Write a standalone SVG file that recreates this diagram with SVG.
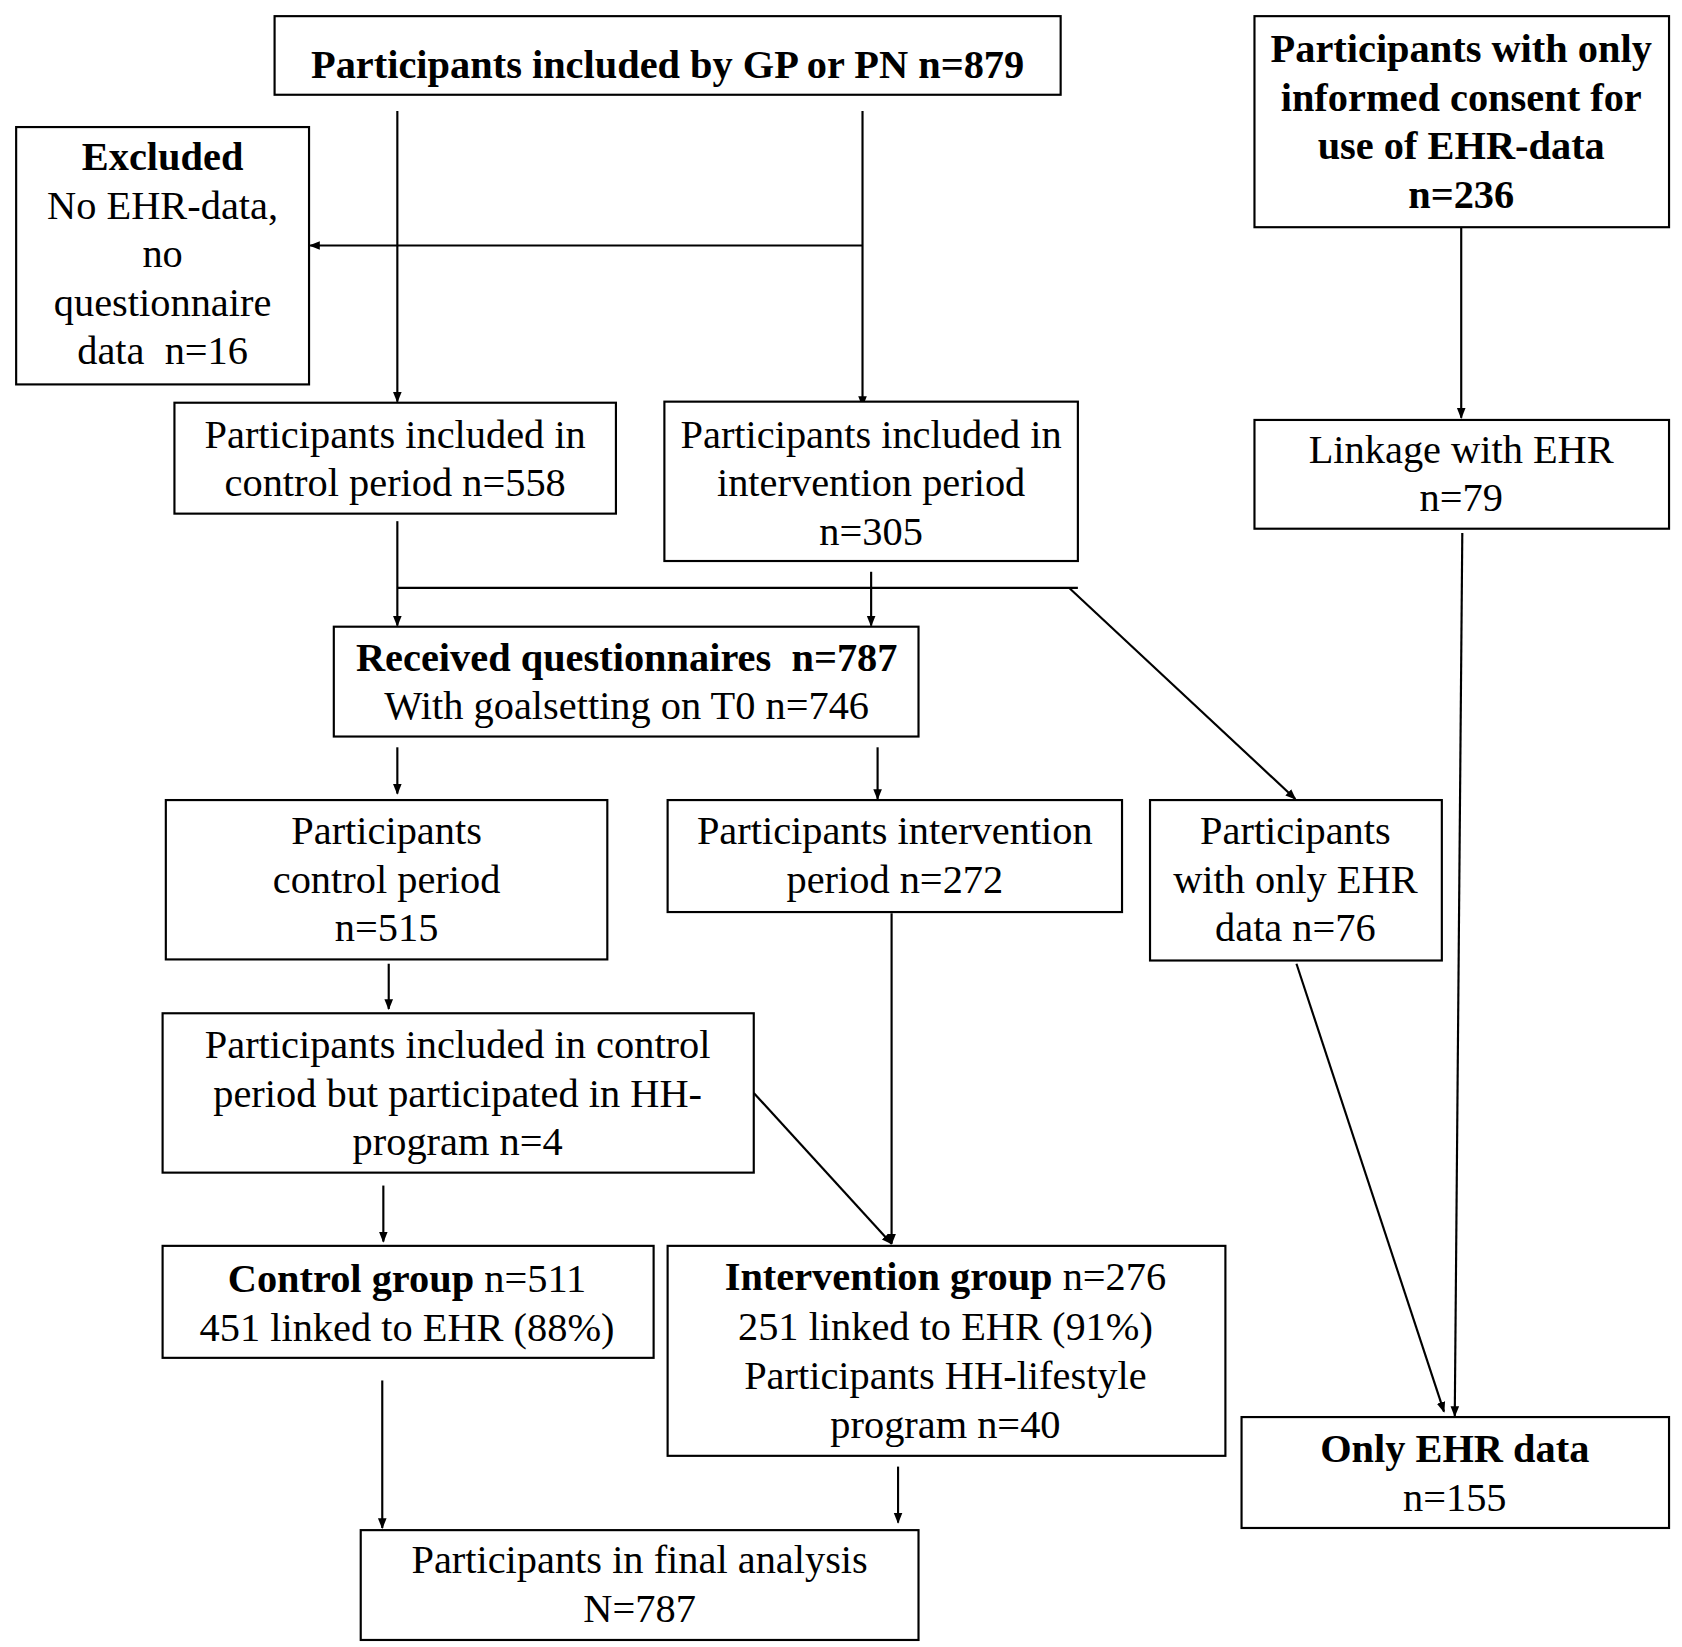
<svg xmlns="http://www.w3.org/2000/svg" width="1682" height="1647" viewBox="0 0 1682 1647">
<defs><marker id="a" markerWidth="10" markerHeight="10" refX="9" refY="5" orient="auto" markerUnits="userSpaceOnUse"><path d="M0,1 L10,5 L0,9 z" fill="#000"/></marker></defs>
<style>rect{fill:#fff;stroke:#000;stroke-width:2}text{font-family:"Liberation Serif",serif;font-size:37.5px;text-anchor:middle;fill:#000}.b{font-weight:bold}#c line{stroke:#000;stroke-width:2}</style>
<rect width="1682" height="1647" style="fill:#fff;stroke:none"/>
<g transform="scale(1.0768)">
<g id="c">
<line x1="369" y1="103" x2="369" y2="373" marker-end="url(#a)"/>
<line x1="801" y1="103" x2="801" y2="377" marker-end="url(#a)"/>
<line x1="801" y1="228" x2="288" y2="228" marker-end="url(#a)"/>
<line x1="1357" y1="211" x2="1357" y2="388" marker-end="url(#a)"/>
<line x1="369" y1="484" x2="369" y2="581" marker-end="url(#a)"/>
<line x1="369" y1="546" x2="1001" y2="546"/>
<line x1="809" y1="531" x2="809" y2="581" marker-end="url(#a)"/>
<line x1="993" y1="546" x2="1203" y2="742" marker-end="url(#a)"/>
<line x1="369" y1="694" x2="369" y2="737" marker-end="url(#a)"/>
<line x1="815" y1="694" x2="815" y2="742" marker-end="url(#a)"/>
<line x1="361" y1="895" x2="361" y2="937" marker-end="url(#a)"/>
<line x1="828" y1="848" x2="828" y2="1155" marker-end="url(#a)"/>
<line x1="700" y1="1015" x2="828" y2="1155" marker-end="url(#a)"/>
<line x1="356" y1="1101" x2="356" y2="1153" marker-end="url(#a)"/>
<line x1="355" y1="1282" x2="355" y2="1419" marker-end="url(#a)"/>
<line x1="834" y1="1362" x2="834" y2="1414" marker-end="url(#a)"/>
<line x1="1204" y1="895" x2="1341" y2="1311" marker-end="url(#a)"/>
<line x1="1358" y1="495" x2="1351" y2="1315" marker-end="url(#a)"/>
</g>
<g id="n1"><rect x="255" y="15" width="730" height="73"/><text x="620" y="72" class="b">Participants included by GP or PN n=879</text></g>
<g id="n2"><rect x="1165" y="15" width="385" height="196"/><text class="b" x="1357" y="58">Participants with only</text><text class="b" x="1357" y="103">informed consent for</text><text class="b" x="1357" y="148">use of EHR-data</text><text class="b" x="1357" y="193">n=236</text></g>
<g id="n3"><rect x="15" y="118" width="272" height="239"/><text class="b" x="151" y="158">Excluded</text><text x="151" y="203">No EHR-data,</text><text x="151" y="248">no</text><text x="151" y="293">questionnaire</text><text x="151" y="338" xml:space="preserve">data  n=16</text></g>
<g id="n4"><rect x="162" y="374" width="410" height="103"/><text x="367" y="416">Participants included in</text><text x="367" y="461">control period n=558</text></g>
<g id="n5"><rect x="617" y="373" width="384" height="148"/><text x="809" y="416">Participants included in</text><text x="809" y="461">intervention period</text><text x="809" y="506">n=305</text></g>
<g id="n6"><rect x="1165" y="390" width="385" height="101"/><text x="1357" y="430">Linkage with EHR</text><text x="1357" y="475">n=79</text></g>
<g id="n7"><rect x="310" y="582" width="543" height="102"/><text class="b" x="582" y="623" xml:space="preserve">Received questionnaires  n=787</text><text x="582" y="668">With goalsetting on T0 n=746</text></g>
<g id="n8"><rect x="154" y="743" width="410" height="148"/><text x="359" y="784">Participants</text><text x="359" y="829">control period</text><text x="359" y="874">n=515</text></g>
<g id="n9"><rect x="620" y="743" width="422" height="104"/><text x="831" y="784">Participants intervention</text><text x="831" y="829">period n=272</text></g>
<g id="n10"><rect x="1068" y="743" width="271" height="149"/><text x="1203" y="784">Participants</text><text x="1203" y="829">with only EHR</text><text x="1203" y="874">data n=76</text></g>
<g id="n11"><rect x="151" y="941" width="549" height="148"/><text x="425" y="983">Participants included in control</text><text x="425" y="1028">period but participated in HH-</text><text x="425" y="1073">program n=4</text></g>
<g id="n12"><rect x="151" y="1157" width="456" height="104"/><text x="378" y="1200"><tspan class="b">Control group</tspan> n=511</text><text x="378" y="1245">451 linked to EHR (88%)</text></g>
<g id="n13"><rect x="620" y="1157" width="518" height="195"/><text x="878" y="1198"><tspan class="b">Intervention group</tspan> n=276</text><text x="878" y="1244">251 linked to EHR (91%)</text><text x="878" y="1290">Participants HH-lifestyle</text><text x="878" y="1335">program n=40</text></g>
<g id="n14"><rect x="1153" y="1316" width="397" height="103"/><text class="b" x="1351" y="1358">Only EHR data</text><text x="1351" y="1403">n=155</text></g>
<g id="n15"><rect x="335" y="1421" width="518" height="102"/><text x="594" y="1461">Participants in final analysis</text><text x="594" y="1506">N=787</text></g>
</g>
</svg>
